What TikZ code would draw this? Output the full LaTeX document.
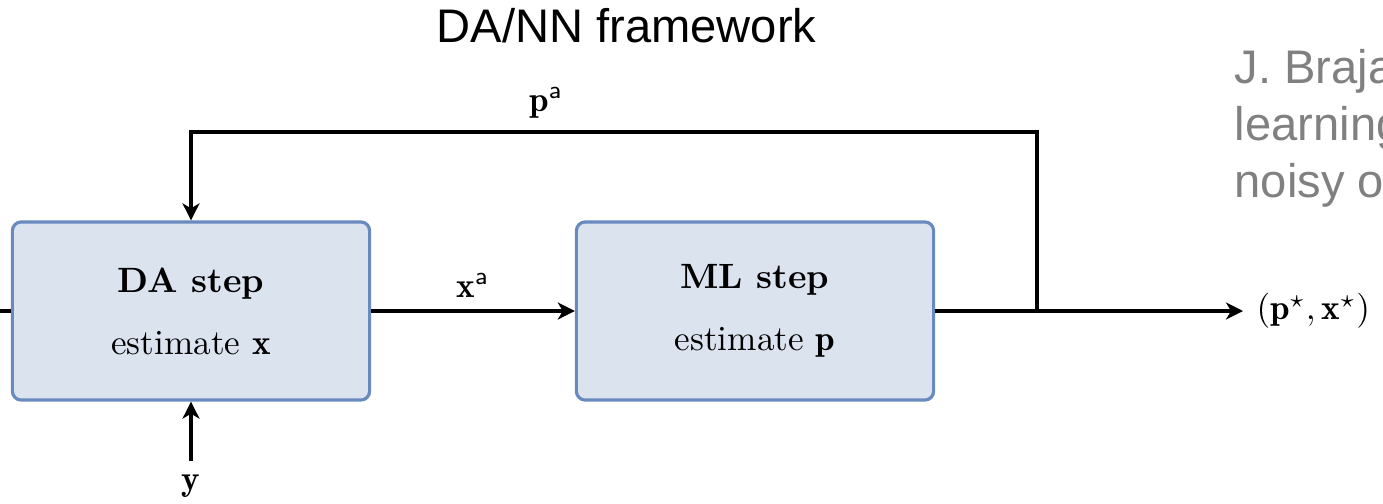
\documentclass[tikz,border=0pt]{standalone}
\usepackage{fontspec}
\usepackage{amsmath}
\usetikzlibrary{arrows.meta}
\newfontfamily\slidefont{Liberation Sans}
\definecolor{boxfill}{RGB}{219,227,238}
\definecolor{boxline}{RGB}{104,138,190}
\definecolor{refgray}{RGB}{128,128,128}

\begin{document}
\begin{tikzpicture}[x=0.01cm,y=-0.01cm,line width=1pt,>={Stealth[length=1.7mm,width=1.7mm,inset=0.5mm]},
  stepbox/.style={draw=boxline,fill=boxfill,rounded corners=2.5pt,line width=0.9pt,
    minimum width=3.57cm,minimum height=1.78cm,align=center},
  slidetext/.style={anchor=base west,inner sep=0pt,font=\slidefont\fontsize{13.4}{16}\selectfont}]
  \useasboundingbox (0,0) rectangle (1383,503);
  \clip (0,0) rectangle (1383,503);
  % titulo y referencia
  \node[slidetext] (title) at (435,42) {DA/NN framework};
  \node[slidetext,text=refgray] (ref1) at (1233,83) {J. Brajard};
  \node[slidetext,text=refgray] (ref2) at (1233,140) {learning};
  \node[slidetext,text=refgray] (ref3) at (1233,197) {noisy observations};
  % bloques
  \node[stepbox] (da) at (191,311) {\textbf{DA step}\\[5.6pt] estimate $\mathbf{x}$};
  \node[stepbox] (ml) at (755,311) {\textbf{ML step}\\[5.6pt] estimate $\mathbf{p}$};
  \node[anchor=base] (yin) at (191,490) {$\mathbf{y}$};
  \node[anchor=west] (out) at (1243,311) {$(\mathbf{p}^\star,\mathbf{x}^\star)$};
  \coordinate (stub) at (0,311);
  \coordinate (split) at (1037,311);
  \coordinate (fb) at (1037,132);
  % conexiones
  \draw (stub) -- (da.west);
  \draw[->] (yin.north) -- (da.south);
  \draw[->] (da.east) -- node[above] {$\mathbf{x}^{\mathsf{a}}$} (ml.west);
  \draw[->] (ml.east) -- (out.west);
  \draw[->] (split) -- (fb) -| node[pos=0.29,above] (pa) {$\mathbf{p}^{\mathsf{a}}$} (da.north);
\end{tikzpicture}
\end{document}
